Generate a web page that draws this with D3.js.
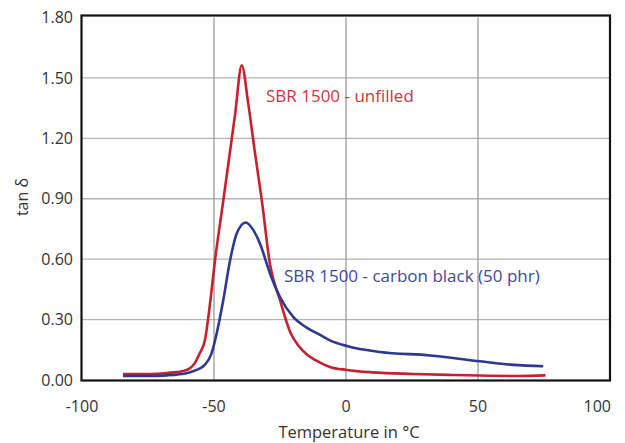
<!DOCTYPE html>
<html>
<head>
<meta charset="utf-8">
<script src="https://cdn.jsdelivr.net/npm/d3@7"></script>
<style>
  html, body { margin: 0; padding: 0; background: #fff; }
  svg { display: block; }
  text { font-family: "Open Sans", "Noto Sans", sans-serif; }
</style>
</head>
<body>
<svg id="chart" width="625" height="443"></svg>
<script>
// ---- data ----
const xTicks = [-100, -50, 0, 50, 100];
const yTicks = [0, 0.3, 0.6, 0.9, 1.2, 1.5, 1.8];

const unfilledT = [-84.5, -75, -67.9, -61.6, -59, -57.2, -55.5, -53.4, -51.5, -49.6, -46.7, -44.6, -42, -39.5, -37, -34.5, -31.9, -28.8, -25, -21.2, -18, -14.9, -10, -6.1, 0.3, 10, 25.4, 40, 50.8, 65, 75.6];
const unfilledV = [0.03, 0.03, 0.035, 0.045, 0.06, 0.085, 0.13, 0.2, 0.38, 0.596, 0.87, 1.07, 1.32, 1.563, 1.37, 1.13, 0.893, 0.575, 0.396, 0.24, 0.17, 0.128, 0.088, 0.065, 0.05, 0.038, 0.03, 0.025, 0.022, 0.02, 0.023];

const cbT = [-84.5, -75, -67.9, -60, -56.6, -53.5, -51, -49, -46.5, -43.9, -41.4, -38, -35.1, -32.6, -28.8, -25, -20, -14.9, -10, -6.1, 0.3, 12.9, 31.8, 50.8, 63.4, 74.7];
const cbV = [0.02, 0.02, 0.023, 0.035, 0.05, 0.075, 0.13, 0.23, 0.396, 0.595, 0.727, 0.782, 0.744, 0.678, 0.529, 0.412, 0.313, 0.26, 0.225, 0.197, 0.169, 0.139, 0.122, 0.093, 0.075, 0.068];

const seriesNames = ["SBR 1500 - unfilled", "SBR 1500 - carbon black (50 phr)"];

// ---- layout ----
const svg = d3.select("#chart");
const x = d3.scaleLinear().domain([-100, 100]).range([82, 610]);
const y = d3.scaleLinear().domain([0, 1.8]).range([380, 17.5]);

const g = svg.append("g");

// grid
g.selectAll("line.hgrid").data(yTicks.slice(1, -1)).join("line")
  .attr("x1", x(-100)).attr("x2", x(100))
  .attr("y1", d => y(d)).attr("y2", d => y(d))
  .attr("stroke", "#b3b3b3").attr("stroke-width", 1.4);
g.selectAll("line.vgrid").data(xTicks.slice(1, -1)).join("line")
  .attr("y1", y(0)).attr("y2", y(1.8))
  .attr("x1", d => x(d)).attr("x2", d => x(d))
  .attr("stroke", "#9a9a9a").attr("stroke-width", 1.3);

// lines
const line = (T, V) => d3.line().curve(d3.curveMonotoneX)
  .x((d, i) => x(T[i])).y((d, i) => y(V[i]))(T);

g.append("path").attr("d", line(unfilledT, unfilledV))
  .attr("fill", "none").attr("stroke", "#c8202f").attr("stroke-width", 2.6)
  .attr("stroke-linejoin", "round");
g.append("path").attr("d", line(cbT, cbV))
  .attr("fill", "none").attr("stroke", "#2b3990").attr("stroke-width", 2.6)
  .attr("stroke-linejoin", "round");

// frame
g.append("rect")
  .attr("x", 81.5).attr("y", 15.5)
  .attr("width", x(100) - 81.5).attr("height", 365)
  .attr("fill", "none").attr("stroke", "#111").attr("stroke-width", 2.2);

// axes labels
g.selectAll("text.yt").data(yTicks).join("text")
  .attr("x", 73).attr("y", d => y(d))
  .attr("dy", "0.35em").attr("text-anchor", "end")
  .attr("font-size", 16).attr("fill", "#333")
  .text(d => d3.format(".2f")(d));

g.selectAll("text.xt").data(xTicks).join("text")
  .attr("x", (d, i) => i === xTicks.length - 1 ? x(d) + 1 : x(d)).attr("y", 412)
  .attr("text-anchor", (d, i) => i === xTicks.length - 1 ? "end" : "middle")
  .attr("font-size", 16).attr("fill", "#333")
  .text(d => d);

g.append("text").attr("x", 349).attr("y", 438)
  .attr("text-anchor", "middle").attr("font-size", 16.5).attr("fill", "#333")
  .text("Temperature in °C");

g.append("text").attr("transform", "translate(28,197) rotate(-90)")
  .attr("text-anchor", "middle").attr("font-size", 16).attr("fill", "#333")
  .text("tan δ");

// series labels
g.append("text").attr("x", 266).attr("y", 102)
  .attr("font-size", 17).attr("fill", "#cf3441")
  .text(seriesNames[0]);
g.append("text").attr("x", 284).attr("y", 282)
  .attr("font-size", 17).attr("fill", "#3f4a96")
  .text(seriesNames[1]);
</script>
</body>
</html>
